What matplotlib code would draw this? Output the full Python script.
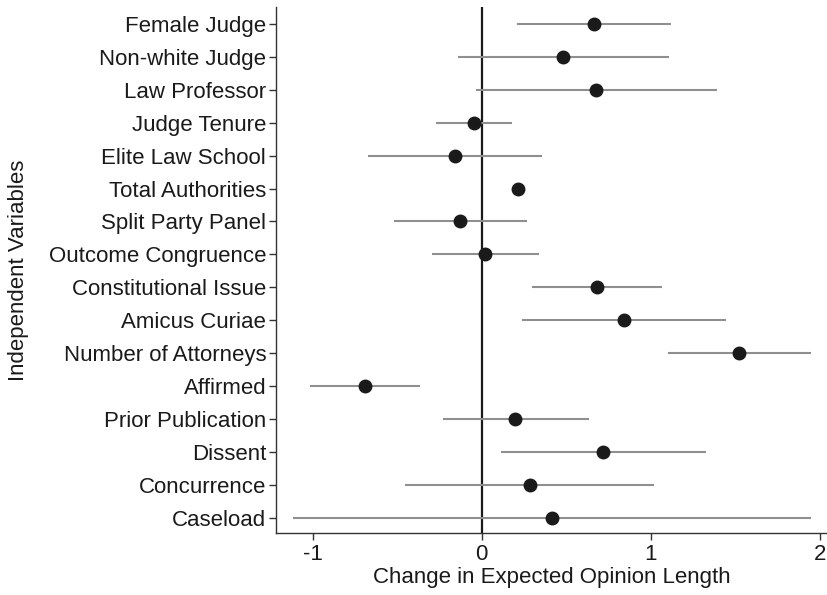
import numpy as np
import matplotlib
matplotlib.use("Agg")
from matplotlib import pyplot as plt

plt.rcParams["font.family"] = ["Liberation Sans", "DejaVu Sans"]
plt.rcParams["axes.unicode_minus"] = False

# Marginal effects with confidence bounds, listed top to bottom
variables = [
    "Female Judge", "Non-white Judge", "Law Professor", "Judge Tenure",
    "Elite Law School", "Total Authorities", "Split Party Panel",
    "Outcome Congruence", "Constitutional Issue", "Amicus Curiae",
    "Number of Attorneys", "Affirmed", "Prior Publication", "Dissent",
    "Concurrence", "Caseload",
]
effect = [0.664, 0.482, 0.679, -0.045, -0.158, 0.216, -0.130, 0.021,
          0.683, 0.843, 1.522, -0.689, 0.200, 0.719, 0.284, 0.414]
lower = [0.207, -0.141, -0.032, -0.271, -0.674, 0.206, -0.521, -0.295,
         0.299, 0.239, 1.101, -1.012, -0.226, 0.113, -0.455, -1.118]
upper = [1.121, 1.108, 1.394, 0.179, 0.359, 0.226, 0.267, 0.342,
         1.067, 1.447, 1.949, -0.367, 0.632, 1.326, 1.022, 1.949]

n = len(variables)
ypos = np.arange(n)[::-1]

fig = plt.figure(figsize=(8.27, 5.95), dpi=100)
ax = fig.add_axes([0.3337, 0.1037, 0.6663, 0.884])

ax.axvline(0, color="#1a1a1a", lw=1.6, zorder=1)
ax.hlines(ypos, lower, upper, color="#8f8f8f", lw=1.5, zorder=2)
ax.plot(effect, ypos, "o", color="#1a1a1a", ms=9, zorder=3)

ax.set_xlim(-1.216, 2.042)
ax.set_ylim(-0.474, 15.507)
ax.set_xticks([-1, 0, 1, 2])
ax.set_yticks(ypos)
ax.set_yticklabels(variables)

for side in ("top", "right"):
    ax.spines[side].set_visible(False)
for side in ("left", "bottom"):
    ax.spines[side].set_color("#333333")
    ax.spines[side].set_linewidth(1.0)
ax.tick_params(axis="both", colors="#333333", labelcolor="#1a1a1a",
               labelsize=16, length=5, width=1.0, direction="out")
ax.tick_params(axis="y", pad=2)
ax.tick_params(axis="x", pad=3)

ax.set_xlabel("Change in Expected Opinion Length", fontsize=16,
              color="#1a1a1a", labelpad=1)
ax.set_ylabel("Independent Variables", fontsize=16, color="#1a1a1a",
              labelpad=14)

fig.savefig("out.png", dpi=100)
